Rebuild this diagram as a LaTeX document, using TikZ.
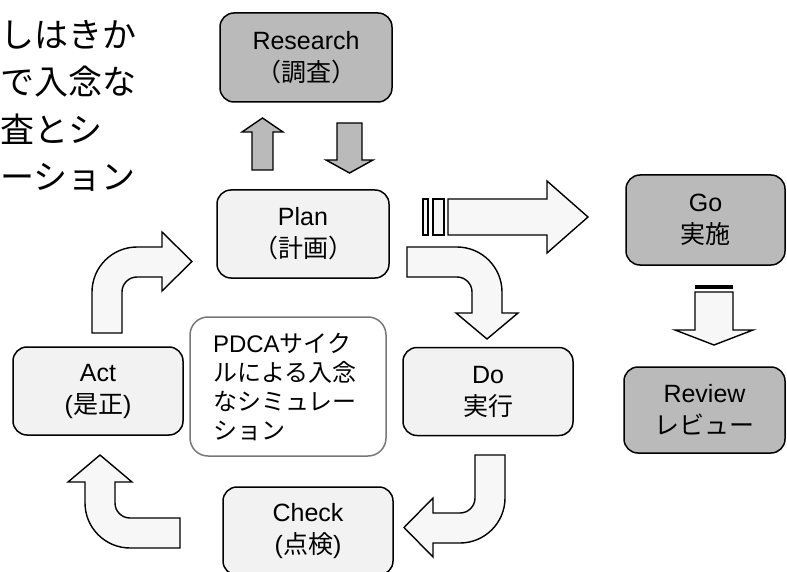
\documentclass[tikz,border=0pt]{standalone}
\usepackage{fontspec}
\setmainfont{Liberation Sans}
\newfontfamily\jp{Noto Sans CJK JP}
\usetikzlibrary{positioning}

\definecolor{boxlight}{RGB}{242,242,242}
\definecolor{boxdark}{RGB}{186,186,186}
\definecolor{arrowfill}{RGB}{247,247,247}
\definecolor{simedge}{RGB}{120,120,120}

\tikzset{
  stagebox/.style={draw,line width=1.5pt,rounded corners=14pt,fill=boxlight,
    minimum width=170pt,minimum height=88pt,align=center,
    font=\fontsize{25}{32}\selectfont},
  darkbox/.style={stagebox,fill=boxdark},
  blockarrow/.style={draw,line width=1.4pt,fill=arrowfill,line join=miter},
  grayarrow/.style={blockarrow,fill=boxdark}
}

\begin{document}
\begin{tikzpicture}[x=1pt,y=-1pt]
\useasboundingbox (0,0) rectangle (787,572);
\clip (0,0) rectangle (787,572);

\node[anchor=north west,align=left,inner sep=0pt,font=\jp\fontsize{34}{47.5}\selectfont] (heading) at (0,20) {しはきか\\で入念な\\査とシ\\ーション};

\node[darkbox,minimum width=172pt,minimum height=89pt] (research) at (306,57.5) {Research\\{\jp （調査）}};
\node[stagebox,minimum width=172pt] (plan) at (303,234) {Plan\\{\jp （計画）}};
\node[stagebox] (do) at (488,391.5) {Do\\{\jp 実行}};
\node[stagebox] (check) at (308,531) {Check\\({\jp 点検})};
\node[stagebox] (act) at (98,391) {Act\\({\jp 是正})};
\node[darkbox,minimum width=159pt,minimum height=90pt] (go) at (705.5,220) {Go\\{\jp 実施}};
\node[darkbox,minimum width=161pt,minimum height=86pt] (review) at (704.5,410) {Review\\{\jp レビュー}};
\node[draw=simedge,line width=1.5pt,rounded corners=18pt,fill=white,minimum width=196pt,minimum height=139pt,
  text width=150pt,align=left,font=\fontsize{24}{29}\selectfont] (sim) at (288,386.5)
  {PDCA{\jp サイク}\\{\jp ルによる入念}\\{\jp なシミュレー}\\{\jp ション}};

% plan <-> research
\draw[grayarrow] (252,170) -- (252,132) -- (242,132) -- (262.5,118) -- (283,132) -- (273,132) -- (273,170) -- cycle;
\draw[grayarrow] (337,123) -- (362,123) -- (362,160) -- (373,160) -- (349.5,173) -- (326,160) -- (337,160) -- cycle;

% plan -> go
\draw[blockarrow] (423,199) rectangle (428,235);
\draw[blockarrow] (433,199) rectangle (444,235);
\draw[blockarrow] (448,199) -- (547,199) -- (547,181) -- (588,217) -- (547,253) -- (547,235) -- (448,235) -- cycle;

% go -> review
\fill (695,285) rectangle (733,289);
\draw[blockarrow] (695,292) -- (733,292) -- (733,330) -- (753,330) -- (714,345) -- (675,330) -- (695,330) -- cycle;

% plan -> do
\draw[blockarrow] (407,247) -- (457,247) .. controls (481.8,247) and (502,267.2) .. (502,292) -- (502,313) -- (518,313)
  -- (487,339) -- (456,313) -- (472,313) -- (472,292) .. controls (472,283.7) and (465.3,277) .. (457,277) -- (407,277) -- cycle;

% do -> check
\draw[blockarrow] (475,455) -- (505,455) -- (505,498) .. controls (505,522.8) and (484.8,543) .. (460,543) -- (433,543)
  -- (433,557) -- (404,527.5) -- (433,498) -- (433,513) -- (460,513) .. controls (468.3,513) and (475,506.3) .. (475,498) -- cycle;

% check -> act
\draw[blockarrow] (180,518) -- (130,518) .. controls (121.7,518) and (115,511.3) .. (115,503) -- (115,482) -- (132,482)
  -- (100,455) -- (68,482) -- (85,482) -- (85,503) .. controls (85,527.8) and (105.2,548) .. (130,548) -- (180,548) -- cycle;

% act -> plan
\draw[blockarrow] (92,333) -- (92,292) .. controls (92,267.2) and (112.2,247) .. (137,247) -- (162,247) -- (162,232)
  -- (192,261.5) -- (162,291) -- (162,277) -- (137,277) .. controls (128.7,277) and (122,283.7) .. (122,292) -- (122,333) -- cycle;
\end{tikzpicture}
\end{document}
